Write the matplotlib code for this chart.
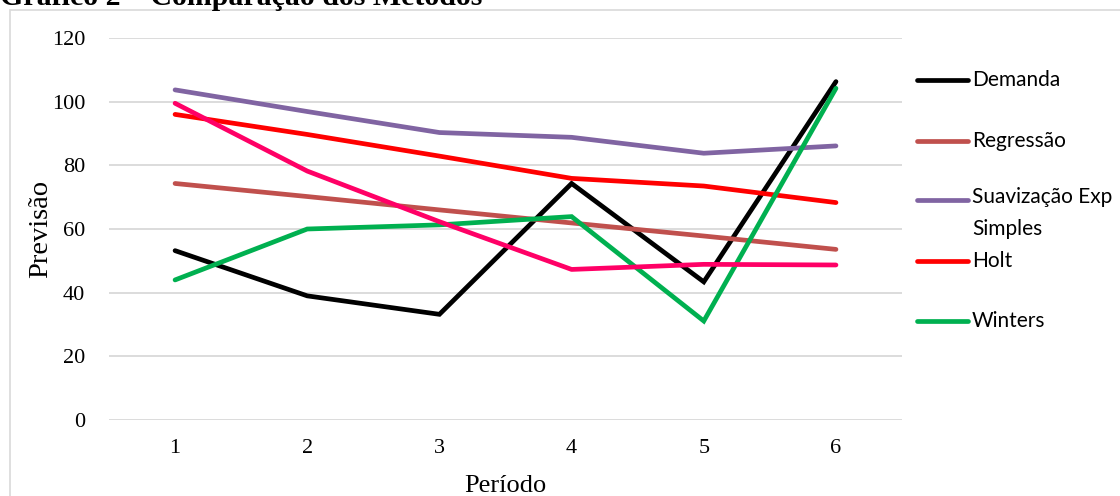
#!/usr/bin/env python3
import matplotlib
matplotlib.use('Agg')
import matplotlib.pyplot as plt
from matplotlib.lines import Line2D
from matplotlib.patches import Rectangle

# dados
periodos = [1, 2, 3, 4, 5, 6]
demanda = [53.2, 39.0, 33.2, 74.3, 43.4, 106.3]
regressao = [74.3, 70.2, 66.0, 61.9, 57.8, 53.6]
suavizacao = [103.7, 96.9, 90.3, 88.8, 83.8, 86.1]
holt = [96.0, 89.7, 82.9, 75.9, 73.5, 68.3]
winters = [44.0, 60.0, 61.3, 63.9, 31.1, 104.2]
outro = [99.5, 78.2, 62.3, 47.3, 48.9, 48.7]

serif = 'Liberation Serif'
sans = 'Lato'

fig = plt.figure(figsize=(11.2, 4.96), dpi=100)
ax = fig.add_axes([0.0973, 0.1532, 0.7081, 0.7702])

lw = 3.4
ax.plot(periodos, demanda, color='black', lw=lw, solid_capstyle='round', solid_joinstyle='miter', zorder=3)
ax.plot(periodos, regressao, color='#C0504D', lw=lw, solid_capstyle='round', zorder=3)
ax.plot(periodos, suavizacao, color='#8064A2', lw=lw, solid_capstyle='round', zorder=3)
ax.plot(periodos, holt, color='#FF0000', lw=lw, solid_capstyle='round', zorder=3)
ax.plot(periodos, winters, color='#00B050', lw=lw, solid_capstyle='round', solid_joinstyle='miter', zorder=3)
ax.plot(periodos, outro, color='#FF0066', lw=lw, solid_capstyle='round', zorder=3)

ax.set_xlim(0.5, 6.5)
ax.set_ylim(0, 120)
ax.set_yticks(range(0, 121, 20))
ax.set_xticks(periodos)
ax.grid(axis='y', color='#D9D9D9', lw=1.3)
ax.set_axisbelow(True)
for s in ax.spines.values():
    s.set_visible(False)
ax.tick_params(length=0, labelsize=16)
ax.tick_params(axis='y', pad=17)
ax.tick_params(axis='x', pad=14)
for lab in ax.get_xticklabels() + ax.get_yticklabels():
    lab.set_fontfamily(serif)
ax.set_xlabel('Período', family=serif, fontsize=19, labelpad=12)
ax.set_ylabel('Previsão', family=serif, fontsize=20.5, labelpad=-1)

# legenda manual (estilo Excel)
nomes = ['Demanda', 'Regressão', 'Suavização Exp\nSimples', 'Holt', 'Winters']
cores = ['black', '#C0504D', '#8064A2', '#FF0000', '#00B050']
ys = [80, 141, 200, 261, 321]
for nome, cor, yp in zip(nomes, cores, ys):
    yf = 1 - yp / 496
    fig.add_artist(Line2D([917 / 1120, 968 / 1120], [yf, yf], color=cor, lw=lw,
                          solid_capstyle='round', transform=fig.transFigure))
    t = fig.text(972 / 1120, yf, nome, family=sans, fontsize=15, va='center',
                 ha='left', linespacing=1.75)
    if '\n' in nome:
        t.set_va('top')
        t.set_y(yf + 13 / 496)

# borda
fig.add_artist(Rectangle((10 / 1120, -0.1), 1.2, 1 - 10 / 496 + 0.1, transform=fig.transFigure,
                         fill=False, edgecolor='#D9D9D9', lw=1.2))

fig.text(0.0, 1 - 5 / 496, 'Gráfico 2 – Comparação dos Métodos', family=serif,
         fontweight='bold', fontsize=21.5, va='baseline', ha='left')

fig.savefig('out.png', dpi=100)
